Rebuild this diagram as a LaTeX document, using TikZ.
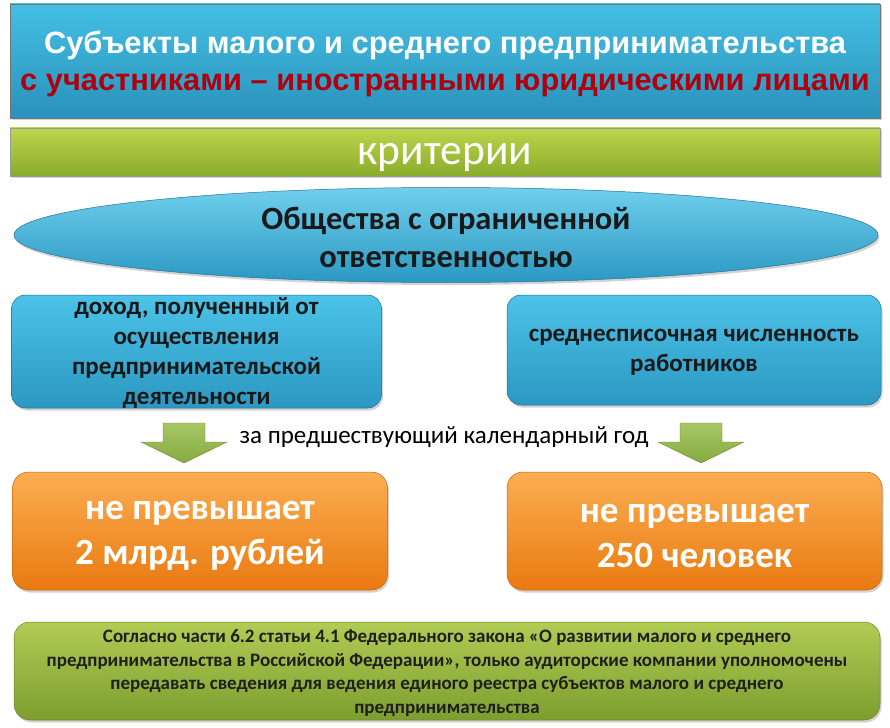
\documentclass[tikz,border=0pt]{standalone}
\usepackage{fontspec}
\setmainfont{Carlito}
\newfontfamily\arialfont{Liberation Sans}
\usetikzlibrary{shapes.geometric,shadows}
\definecolor{cyanTop}{HTML}{45BFE4}
\definecolor{cyanBot}{HTML}{2A92BA}
\definecolor{boxTop}{HTML}{4CC3E8}
\definecolor{boxBot}{HTML}{2B98C2}
\definecolor{greenTop}{HTML}{BDD64C}
\definecolor{greenBot}{HTML}{8AAB2B}
\definecolor{arrTop}{HTML}{A7C766}
\definecolor{arrBot}{HTML}{86AA40}
\definecolor{orTop}{HTML}{FBAE52}
\definecolor{orBot}{HTML}{E97A10}
\definecolor{ngTop}{HTML}{B0CC54}
\definecolor{ngBot}{HTML}{7D9D2E}
\definecolor{titleRed}{HTML}{B0000E}
\begin{document}
\begin{tikzpicture}[x=1pt,y=-1pt,
  shadowed/.style={drop shadow={opacity=0.35,shadow xshift=1.5pt,shadow yshift=-2.5pt}},
  titlebox/.style={rectangle,draw=black!55,line width=0.6pt,top color=cyanTop,bottom color=cyanBot,shadowed,inner sep=0pt},
  critbar/.style={rectangle,draw=black!40,line width=0.4pt,top color=greenTop,bottom color=greenBot,shadowed,inner sep=0pt},
  lens/.style={ellipse,draw=cyanBot!80!black,line width=0.5pt,top color=boxTop!80!white,bottom color=boxBot,shadowed,inner sep=0pt},
  bluebox/.style={rectangle,rounded corners=14pt,draw=cyanBot!75!black,line width=0.5pt,top color=boxTop,bottom color=boxBot,shadowed,inner sep=0pt},
  orangebox/.style={rectangle,rounded corners=16pt,draw=orBot!85!black,line width=0.5pt,top color=orTop,bottom color=orBot,shadowed,inner sep=0pt},
  notebox/.style={rectangle,rounded corners=16pt,draw=ngBot!85!black,line width=0.5pt,top color=ngTop,bottom color=ngBot,shadowed,inner sep=0pt},
  downarrow/.style={draw=arrBot!80!black,line width=0.4pt,top color=arrTop,bottom color=arrBot},
  boxtext/.style={align=center,font=\bfseries\fontsize{25}{30}\selectfont,text=black!90},
  bigtext/.style={align=center,font=\bfseries\fontsize{37}{45}\selectfont,text=white},
]
\useasboundingbox (0,0) rectangle (890,727);
\fill[white] (0,0) rectangle (890,727);

% title
\node[titlebox,minimum width=870pt,minimum height=114pt] (title) at (445,61) {};
\node[align=center,font=\arialfont\bfseries\fontsize{30.8}{37}\selectfont] (titletext) at (445,64)
  {\textcolor{white}{Субъекты малого и среднего предпринимательства}\\
   \textcolor{titleRed}{с участниками – иностранными юридическими лицами}};

% criteria bar
\node[critbar,minimum width=870pt,minimum height=48pt] (crit) at (445,152) {};
\node[font=\fontsize{43.5}{45}\selectfont,text=white] (crittext) at (445,157) {критерии};

% ellipse
\node[lens,minimum width=864pt,minimum height=95pt] (llc) at (446,235) {};
\node[align=center,font=\bfseries\fontsize{32.5}{38}\selectfont,text=black!90] (llctext) at (446,237)
  {Общества с ограниченной\\ответственностью};

% criteria boxes
\node[bluebox,minimum width=370pt,minimum height=113pt] (income) at (196.5,351.5) {};
\node[boxtext] (incometext) at (196.5,353)
  {доход, полученный от\\осуществления\\предпринимательской\\деятельности};
\node[bluebox,minimum width=374pt,minimum height=110pt] (staff) at (694,350) {};
\node[boxtext] (stafftext) at (694,352)
  {среднесписочная численность\\работников};

% arrows
\coordinate (a1) at (184,423);
\coordinate (a2) at (701,423);
\foreach \c in {a1,a2}{
  \path[downarrow] (\c) ++(-21,0) -- ++(42,0) -- ++(0,19) -- ++(22,0) -- ++(-43,21) -- ++(-43,-21) -- ++(22,0) -- cycle;
}
\node[font=\fontsize{25}{27}\selectfont,text=black] (period) at (444,437) {за предшествующий календарный год};

% orange results
\node[orangebox,minimum width=375pt,minimum height=118pt] (money) at (200,531) {};
\node[bigtext] (moneytext) at (200,536) {не превышает\\2 млрд. рублей};
\node[orangebox,minimum width=375pt,minimum height=118pt] (people) at (694.5,531) {};
\node[bigtext] (peopletext) at (694.5,536) {не превышает\\250 человек};

% note
\node[notebox,minimum width=866pt,minimum height=98pt] (note) at (447,671) {};
\node[align=center,font=\bfseries\fontsize{19}{23.5}\selectfont,text=black!88] (notetext) at (447,673)
  {Согласно части 6.2 статьи 4.1 Федерального закона «О развитии малого и среднего\\
   предпринимательства в Российской Федерации», только аудиторские компании уполномочены\\
   передавать сведения для ведения единого реестра субъектов малого и среднего\\
   предпринимательства};
\end{tikzpicture}
\end{document}
